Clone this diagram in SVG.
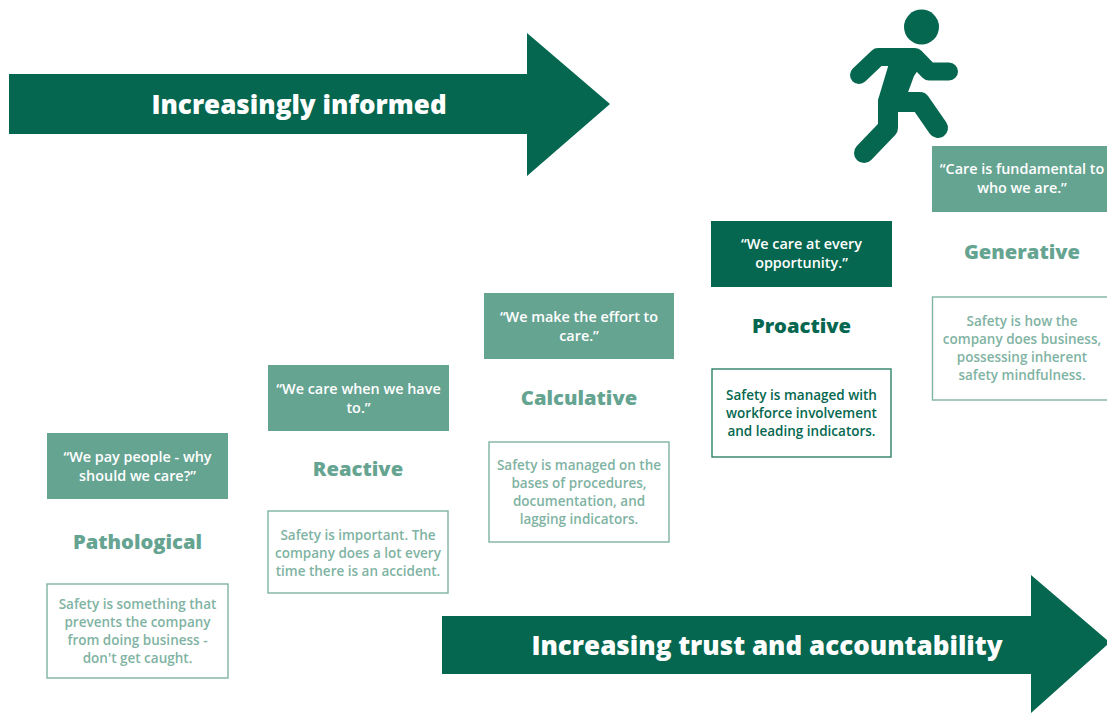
<svg xmlns="http://www.w3.org/2000/svg" width="1107" height="713" viewBox="0 0 1107 713">
<style>
text{font-family:"Open Sans","Noto Sans","Liberation Sans",sans-serif;text-anchor:middle}
.arrow{fill:#05674f}
.big{fill:#fff;font-weight:800;font-size:26px}
.q{font-size:14.400px;font-weight:600;fill:#fff}
.dark{fill:#05674f}.light{fill:#66a492}
.lbl{font-size:20.200px;font-weight:800}
.box{fill:#fff;stroke-width:1.400}
.d{font-size:13.500px;font-weight:600}
.l1{fill:#7fb3a3}.l2{fill:#05674f}
.sl{stroke:#7fb3a3}.sd{stroke:#2f8069}
.arm{fill:none;stroke:#05674f;stroke-width:18;stroke-linecap:round;stroke-linejoin:round}
.leg{fill:none;stroke:#05674f;stroke-width:20;stroke-linecap:round;stroke-linejoin:round}
</style>
<rect width="1107" height="713" fill="#fff"/>
<g id="connectors">
<path class="arrow" d="M9 74H527V33L610 104L527 176V134H9Z"/>
<path class="arrow" d="M442 616H1031V575L1107 640V645L1031 713V674H442Z"/>
</g>
<text class="big" x="299" y="114">Increasingly informed</text>
<text class="big" x="767" y="655">Increasing trust and accountability</text>
<g id="runner">
<circle cx="921.500" cy="27" r="17.500" fill="#05674f"/>
<path class="arm" d="M859 75L878 57H915L929 71.500H949"/>
<path class="leg" d="M888 103V128L864 153"/>
<path class="leg" d="M888 102H920L938 128"/>
<path fill="#05674f" d="M878 100L890 60H925L914 76L907 95L890 112Z"/>
</g>
<g id="pathological">
<rect class="light" x="47" y="433" width="181" height="66"/>
<text class="q" x="137.500" y="462">“We pay people - why</text>
<text class="q" x="137.500" y="481">should we care?”</text>
<text class="lbl light" x="137.500" y="549">Pathological</text>
<rect class="box sl" x="47" y="584" width="181" height="94"/>
<text class="d l1" x="137.500" y="609">Safety is something that</text>
<text class="d l1" x="137.500" y="627">prevents the company</text>
<text class="d l1" x="137.500" y="645">from doing business -</text>
<text class="d l1" x="137.500" y="663">don't get caught.</text>
</g>
<g id="reactive">
<rect class="light" x="268" y="365" width="181" height="66"/>
<text class="q" x="358.500" y="394">“We care when we have</text>
<text class="q" x="358.500" y="413">to.”</text>
<text class="lbl light" x="358" y="476">Reactive</text>
<rect class="box sl" x="268" y="511" width="180" height="82"/>
<text class="d l1" x="358" y="540">Safety is important. The</text>
<text class="d l1" x="358" y="558">company does a lot every</text>
<text class="d l1" x="358" y="576">time there is an accident.</text>
</g>
<g id="calculative">
<rect class="light" x="484" y="293" width="190" height="66"/>
<text class="q" x="579" y="322">“We make the effort to</text>
<text class="q" x="579" y="341">care.”</text>
<text class="lbl light" x="579" y="405">Calculative</text>
<rect class="box sl" x="489" y="442" width="180" height="100"/>
<text class="d l1" x="579" y="470">Safety is managed on the</text>
<text class="d l1" x="579" y="488">bases of procedures,</text>
<text class="d l1" x="579" y="506">documentation, and</text>
<text class="d l1" x="579" y="524">lagging indicators.</text>
</g>
<g id="proactive">
<rect class="dark" x="711" y="221" width="181" height="66"/>
<text class="q" x="801.500" y="249">“We care at every</text>
<text class="q" x="801.500" y="268">opportunity.”</text>
<text class="lbl dark" x="801.500" y="333">Proactive</text>
<rect class="box sd" x="712" y="369" width="179" height="88"/>
<text class="d l2" x="801.500" y="400">Safety is managed with</text>
<text class="d l2" x="801.500" y="418">workforce involvement</text>
<text class="d l2" x="801.500" y="436">and leading indicators.</text>
</g>
<g id="generative">
<rect class="light" x="932" y="146" width="175" height="66"/>
<text class="q" x="1022" y="174">“Care is fundamental to</text>
<text class="q" x="1022" y="193">who we are.”</text>
<text class="lbl light" x="1022" y="259">Generative</text>
<rect class="box sl" x="932.500" y="297" width="180" height="103"/>
<text class="d l1" x="1022" y="326">Safety is how the</text>
<text class="d l1" x="1022" y="344">company does business,</text>
<text class="d l1" x="1022" y="362">possessing inherent</text>
<text class="d l1" x="1022" y="380">safety mindfulness.</text>
</g>
</svg>
